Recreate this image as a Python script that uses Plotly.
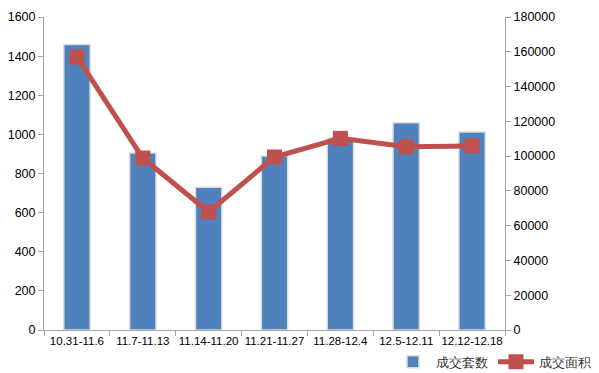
import plotly.graph_objects as go

categories = ["10.31-11.6", "11.7-11.13", "11.14-11.20", "11.21-11.27", "11.28-12.4", "12.5-12.11", "12.12-12.18"]
units_sold = [1460, 905, 730, 890, 982, 1060, 1012]
area_sold = [157000, 98900, 67900, 99500, 110200, 105400, 105800]

font_family = "Liberation Sans, Arial, sans-serif"

fig = go.Figure()
fig.add_trace(go.Bar(
    x=categories, y=units_sold, name="成交套数",
    marker=dict(color="#4F81BD", line=dict(color="#DCDCDC", width=1.5)),
    width=0.4, yaxis="y",
))
fig.add_trace(go.Scatter(
    x=categories, y=area_sold, name="成交面积", yaxis="y2",
    mode="lines+markers",
    line=dict(color="#C0504D", width=5),
    marker=dict(symbol="square", size=15, color="#C0504D"),
))

fig.update_layout(
    width=599, height=373,
    margin=dict(l=44, r=94, t=17, b=43, autoexpand=False),
    paper_bgcolor="white", plot_bgcolor="white",
    font=dict(family=font_family, size=12, color="#000000"),
    showlegend=True,
    legend=dict(orientation="h", xref="container", yref="container",
                x=0.995, xanchor="right", y=0.03, yanchor="middle",
                font=dict(size=13, color="#333"), bgcolor="rgba(0,0,0,0)",
                itemwidth=36, traceorder="normal"),
    xaxis=dict(type="category", showline=True, linecolor="#A6A6A6", linewidth=1,
               ticks="outside", tickson="boundaries", tickcolor="#A6A6A6", ticklen=5,
               showgrid=False, tickfont=dict(size=11.5), tickangle=0),
    yaxis=dict(range=[0, 1600], dtick=200, showline=True, linecolor="#A6A6A6",
               ticks="outside", tickcolor="#A6A6A6", ticklen=5, showgrid=False,
               zeroline=False, tickfont=dict(size=12.5)),
    yaxis2=dict(range=[0, 180000], dtick=20000, overlaying="y", side="right",
                showline=True, linecolor="#A6A6A6", ticks="outside", tickcolor="#A6A6A6",
                ticklen=5, showgrid=False, zeroline=False, tickfont=dict(size=12.5),
                tickformat="d"),
)

fig.write_html("out.html", config={"displayModeBar": False},
               post_script="document.body.style.margin='0';document.body.style.padding='0';")
